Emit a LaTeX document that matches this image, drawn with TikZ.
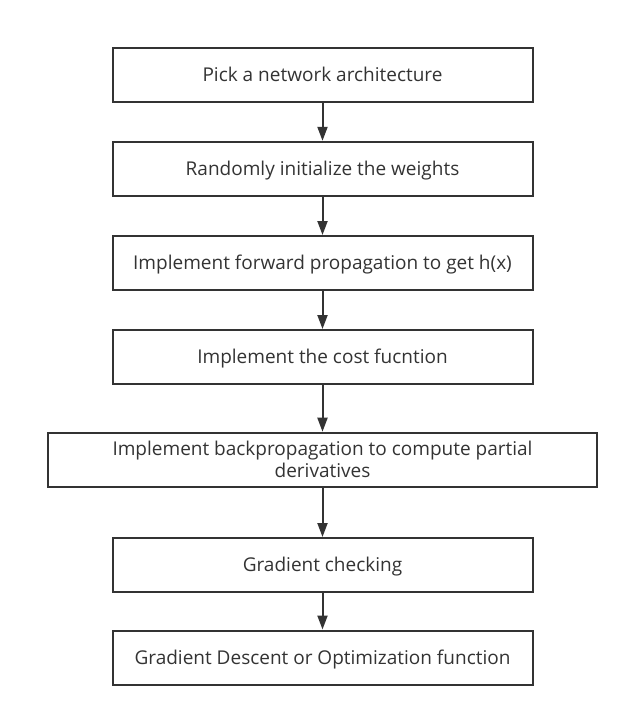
\documentclass[tikz,border=0pt]{standalone}
\usepackage{fontspec}
\setmainfont{Open Sans}
\usetikzlibrary{arrows.meta}
\definecolor{ink}{HTML}{333333}
\begin{document}
\begin{tikzpicture}[x=1pt,y=-1pt,
  box/.style={draw=ink,line width=2pt,minimum width=420pt,minimum height=54pt,inner sep=0pt,text=ink,font=\fontsize{19}{22}\selectfont,align=center,text depth=1.5pt},
  conn/.style={draw=ink,line width=2pt,-{Triangle[length=14pt,width=10pt]}}]
\useasboundingbox (0,0) rectangle (629,717);
\node[box] (n1) at (322.5,74.6) {Pick a network architecture};
\node[box] (n2) at (322.5,168.8) {Randomly initialize the weights};
\node[box] (n3) at (322.5,263) {Implement forward propagation to get h(x)};
\node[box] (n4) at (322.5,357) {Implement the cost fucntion};
\node[box,minimum width=549.5pt] (n5) at (322.5,459.7) {Implement backpropagation to compute partial\\derivatives};
\node[box] (n6) at (322.5,565) {Gradient checking};
\node[box] (n7) at (322.5,657.5) {Gradient Descent or Optimization function};
\draw[conn] (n1) -- (n2);
\draw[conn] (n2) -- (n3);
\draw[conn] (n3) -- (n4);
\draw[conn] (n4) -- (n5);
\draw[conn] (n5) -- (n6);
\draw[conn] (n6) -- (n7);
\end{tikzpicture}
\end{document}
